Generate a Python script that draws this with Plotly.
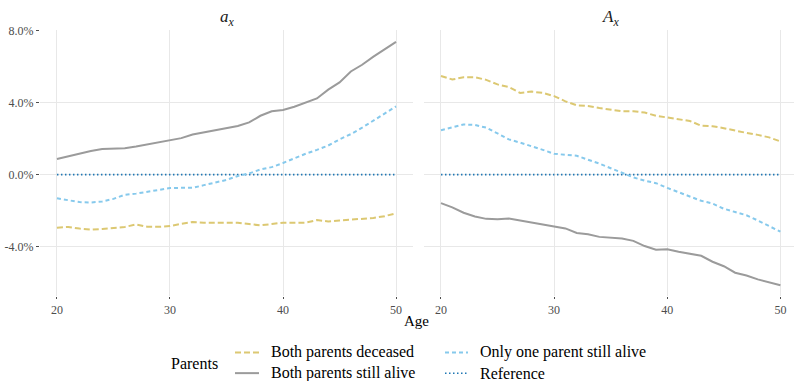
import plotly.graph_objects as go
from plotly.subplots import make_subplots

ages = list(range(20, 51))

# a_x panel (percent)
ax_alive = [0.87, 1.02, 1.20, 1.32, 1.43, 1.45, 1.47, 1.56, 1.67, 1.78, 1.89, 2.03, 2.23, 2.34, 2.47, 2.58,
            2.70, 2.90, 3.27, 3.52, 3.59, 3.77, 3.99, 4.23, 4.72, 5.12, 5.73, 6.10, 6.55, 6.97, 7.37]
ax_one = [-1.31, -1.42, -1.52, -1.54, -1.49, -1.34, -1.11, -1.05, -0.96, -0.87, -0.74, -0.73, -0.73, -0.58,
          -0.44, -0.29, -0.07, 0.07, 0.29, 0.42, 0.65, 0.91, 1.16, 1.38, 1.62, 1.96, 2.25, 2.61, 3.01, 3.41, 3.79]
ax_dec = [-2.94, -2.90, -2.99, -3.05, -3.01, -2.94, -2.90, -2.76, -2.89, -2.89, -2.85, -2.72, -2.63, -2.66,
          -2.66, -2.65, -2.66, -2.74, -2.81, -2.74, -2.66, -2.66, -2.66, -2.52, -2.59, -2.54, -2.50, -2.45,
          -2.40, -2.30, -2.14]

# A_x panel (percent)
Ax_dec = [5.48, 5.28, 5.41, 5.41, 5.26, 5.01, 4.86, 4.54, 4.61, 4.54, 4.36, 4.07, 3.85, 3.81, 3.70, 3.59,
          3.52, 3.52, 3.45, 3.27, 3.16, 3.09, 2.98, 2.72, 2.69, 2.58, 2.43, 2.32, 2.21, 2.07, 1.85]
Ax_one = [2.47, 2.61, 2.79, 2.76, 2.61, 2.29, 1.96, 1.78, 1.60, 1.38, 1.16, 1.11, 1.05, 0.83, 0.62, 0.36,
          0.11, -0.15, -0.33, -0.47, -0.73, -0.98, -1.23, -1.45, -1.60, -1.89, -2.07, -2.25, -2.54, -2.87, -3.16]
Ax_alive = [-1.58, -1.81, -2.11, -2.32, -2.45, -2.47, -2.43, -2.54, -2.65, -2.76, -2.83, -2.98, -3.23, -3.30,
            -3.45, -3.48, -3.54, -3.67, -3.96, -4.16, -4.14, -4.28, -4.39, -4.50, -4.83, -5.08, -5.44, -5.59,
            -5.81, -5.99, -6.13]
reference = [0.0] * len(ages)

y_ticks = [-4, 0, 4, 8]
y_ticklabels = ["-4.0%", "0.0%", "4.0%", "8.0%"]
x_ticks = [20, 30, 40, 50]

legend_names = ["Both parents deceased", "Both parents still alive", "Only one parent still alive", "Reference"]

C_DEC = "#dcc872"
C_ALIVE = "#9b9b9b"
C_ONE = "#86c9ec"
C_REF = "#1f77b4"
DASH_DEC = "6px,3px"
DASH_ONE = "4px,3px"
DASH_REF = "1.5px,2.5px"

W, H = 794, 381
FONT = "Liberation Serif, Times New Roman, serif"

fig = make_subplots(rows=1, cols=2, shared_yaxes=True)

def add_panel(col, dec, alive, one):
    fig.add_trace(go.Scatter(x=ages, y=reference, mode="lines",
                             line=dict(color=C_REF, width=1.8, dash=DASH_REF)), row=1, col=col)
    fig.add_trace(go.Scatter(x=ages, y=dec, mode="lines",
                             line=dict(color=C_DEC, width=2, dash=DASH_DEC)), row=1, col=col)
    fig.add_trace(go.Scatter(x=ages, y=one, mode="lines",
                             line=dict(color=C_ONE, width=2, dash=DASH_ONE)), row=1, col=col)
    fig.add_trace(go.Scatter(x=ages, y=alive, mode="lines",
                             line=dict(color=C_ALIVE, width=2)), row=1, col=col)

add_panel(1, ax_dec, ax_alive, ax_one)
add_panel(2, Ax_dec, Ax_alive, Ax_one)

def px(x):
    return x / W

def py(y):
    return 1 - y / H

ydom = [py(295), py(24)]
tickfont = dict(family=FONT, size=12, color="#4d4d4d")
common_x = dict(tickvals=x_ticks, showgrid=True, gridcolor="#e8e8e8", gridwidth=1, zeroline=False,
                showline=False, ticks="outside", ticklen=2, tickcolor="#4d4d4d", tickfont=tickfont)
fig.update_layout(
    width=W, height=H, margin=dict(l=0, r=0, t=0, b=0),
    paper_bgcolor="white", plot_bgcolor="white", showlegend=False,
    font=dict(family=FONT, color="black"),
    xaxis=dict(domain=[px(40), px(413)], range=[18.5, 51.5], **common_x),
    xaxis2=dict(domain=[px(424), px(794)], range=[18.5, 51.2], **common_x),
    yaxis=dict(domain=ydom, range=[-6.75, 8.05], tickvals=y_ticks, ticktext=y_ticklabels,
               showgrid=True, gridcolor="#e8e8e8", zeroline=False, showline=False,
               ticks="outside", ticklen=3, tickcolor="#4d4d4d", tickfont=tickfont),
    yaxis2=dict(domain=ydom, range=[-6.75, 8.05], tickvals=y_ticks, showticklabels=False,
                showgrid=True, gridcolor="#e8e8e8", zeroline=False, showline=False),
)

def note(x, y, text, size, xanchor="center", color="black"):
    return dict(x=px(x), y=py(y), xref="paper", yref="paper", text=text, xanchor=xanchor,
                yanchor="middle", showarrow=False, font=dict(family=FONT, size=size, color=color))

ann = [
    note(227, 12, "<i>a<sub>x</sub></i>", 17, color="#1a1a1a"),
    note(610, 12, "<i>A<sub>x</sub></i>", 17, color="#1a1a1a"),
    note(416, 320, "Age", 15),
    note(194, 363, "Parents", 16),
]

legend_items = [
    (legend_names[0], 235, 259, 269, 352, C_DEC, DASH_DEC),
    (legend_names[1], 235, 259, 269, 373, C_ALIVE, None),
    (legend_names[2], 445, 468, 478, 352, C_ONE, DASH_ONE),
    (legend_names[3], 445, 468, 478, 373, C_REF, DASH_REF),
]
shapes = []
for name, x0, x1, tx, ty, col, dash in legend_items:
    line = dict(color=col, width=2)
    if dash:
        line["dash"] = dash
    if col == C_REF:
        line["width"] = 1.5
    shapes.append(dict(type="line", xref="paper", yref="paper", x0=px(x0), x1=px(x1),
                       y0=py(ty), y1=py(ty), line=line))
    ann.append(note(tx, ty, name, 16, xanchor="left"))

fig.update_layout(annotations=ann, shapes=shapes)
fig.write_html("out.html")
